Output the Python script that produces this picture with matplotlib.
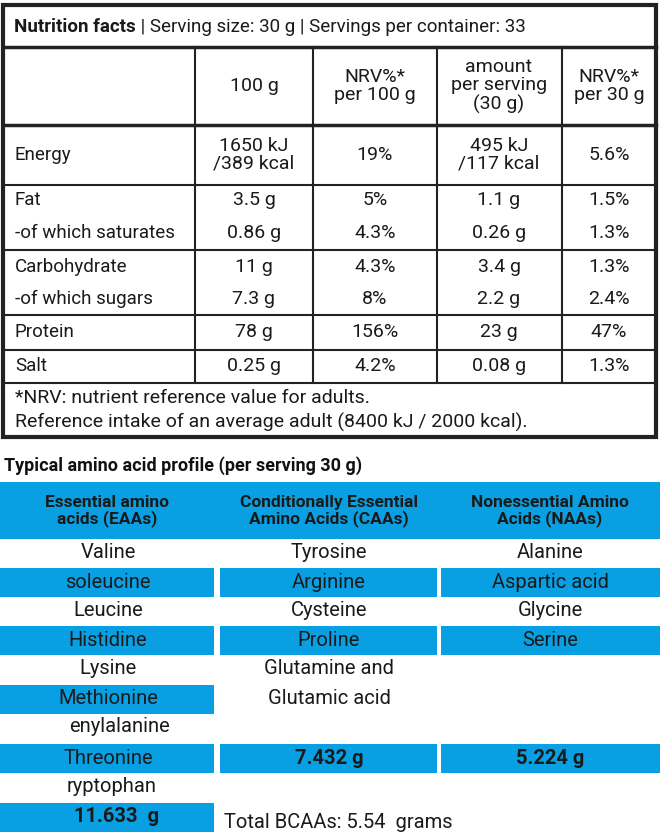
import matplotlib
matplotlib.use("Agg")
import matplotlib.pyplot as plt
from matplotlib.patches import Rectangle

FONT = ['Roboto', 'DejaVu Sans']
BLUE = '#08a0e2'

title_bold = "Nutrition facts"
title_rest = " | Serving size: 30 g | Servings per container: 33"
col_headers = ["100 g", "NRV%*\nper 100 g", "amount\nper serving\n(30 g)", "NRV%*\nper 30 g"]
nutrients = ["Energy", "Fat", "-of which saturates", "Carbohydrate", "-of which sugars", "Protein", "Salt"]
per100 = ["1650 kJ\n/389 kcal", "3.5 g", "0.86 g", "11 g", "7.3 g", "78 g", "0.25 g"]
nrv100 = ["19%", "5%", "4.3%", "4.3%", "8%", "156%", "4.2%"]
perserv = ["495 kJ\n/117 kcal", "1.1 g", "0.26 g", "3.4 g", "2.2 g", "23 g", "0.08 g"]
nrvserv = ["5.6%", "1.5%", "1.3%", "1.3%", "2.4%", "47%", "1.3%"]
footnote = ["*NRV: nutrient reference value for adults.",
            "Reference intake of an average adult (8400 kJ / 2000 kcal)."]

amino_title = "Typical amino acid profile (per serving 30 g)"
amino_headers = ["Essential amino\nacids (EAAs)", "Conditionally Essential\nAmino Acids (CAAs)", "Nonessential Amino\nAcids (NAAs)"]
eaas = ["Valine", "soleucine", "Leucine", "Histidine", "Lysine", "Methionine", "enylalanine", "Threonine", "ryptophan"]
caas = ["Tyrosine", "Arginine", "Cysteine", "Proline", "Glutamine and", "Glutamic acid"]
naas = ["Alanine", "Aspartic acid", "Glycine", "Serine"]
totals = ["11.633  g", "7.432 g", "5.224 g"]
bcaa_text = "Total BCAAs: 5.54  grams"

fig = plt.figure(figsize=(6.6, 8.4), dpi=100)
ax = fig.add_axes([0, 0, 1, 1])
ax.set_xlim(0, 660); ax.set_ylim(840, 0); ax.axis('off')

def T(x, y, s, size=14, ha='center', weight='normal', color='#1a1a1a', **kw):
    return ax.text(x, y, s, fontsize=size, ha=ha, va='center', family=FONT, weight=weight,
                   color=color, linespacing=1.0, **kw)

# ---- nutrition table ----
L, R, TOP, BOT = 3, 656, 5, 437
ax.add_patch(Rectangle((L, TOP), R-L, BOT-TOP, fill=False, lw=3, ec='#222'))
for y in [47, 125]:
    ax.plot([L, R], [y, y], color='#222', lw=2.5)
for y in [185, 250, 315, 350, 383]:
    ax.plot([L, R], [y, y], color='#222', lw=1.5)
for x in [195, 313, 437, 562]:
    ax.plot([x, x], [47, 383], color='#222', lw=1.5)
t1 = T(14, 27, title_bold, size=13.5, ha='left', weight='bold')
fig.canvas.draw()
bb = t1.get_window_extent().transformed(ax.transData.inverted())
T(bb.x1, 27, title_rest, size=13.5, ha='left')

cx = [254, 375, 499, 609]
for x, h in zip(cx, col_headers):
    T(x, 86, h)
rows_y = [155, 200, 233, 267, 299, 332, 366]
for i, y in enumerate(rows_y):
    T(15, y, nutrients[i], ha='left', size=13.5)
    for x, v in zip(cx, [per100[i], nrv100[i], perserv[i], nrvserv[i]]):
        T(x, y, v)
T(15, 398, footnote[0], ha='left')
T(15, 422, footnote[1], ha='left')

# ---- amino acid profile ----
T(4, 466, amino_title, ha='left', weight='bold', size=13, color='#111')
ax.add_patch(Rectangle((0, 482), 660, 57, color=BLUE, lw=0))
hx = [107, 329, 550]
for x, h in zip(hx, amino_headers):
    T(x, 511, h, weight='bold', size=12.5, color='#1a1a1a')

row_y = [553, 582, 611, 640, 669, 699, 727, 758, 786, 817]
cols = [(0, 214), (220, 437), (441, 660)]
cxa = [108, 329, 550]
for r in [1, 3, 5, 7, 9]:
    ax.add_patch(Rectangle((cols[0][0], row_y[r]-14.5), cols[0][1]-cols[0][0], 29, color=BLUE, lw=0))
for r in [1, 3, 7]:
    for c in (1, 2):
        ax.add_patch(Rectangle((cols[c][0], row_y[r]-14.5), cols[c][1]-cols[c][0], 29, color=BLUE, lw=0))

for i, s in enumerate(eaas):
    T(cxa[0] + (12 if s == "enylalanine" else 4 if s == "ryptophan" else 0), row_y[i], s, size=14.5)
for i, s in enumerate(caas):
    T(cxa[1], row_y[i], s, size=14.5)
for i, s in enumerate(naas):
    T(cxa[2], row_y[i], s, size=14.5)
T(cxa[0] + 8, row_y[9], totals[0], weight='bold', size=14.5)
T(cxa[1], row_y[7], totals[1], weight='bold', size=14.5)
T(cxa[2], row_y[7], totals[2], weight='bold', size=14.5)
T(224, 823, bcaa_text, ha='left', size=14.5)

fig.savefig('out.png', dpi=100)
